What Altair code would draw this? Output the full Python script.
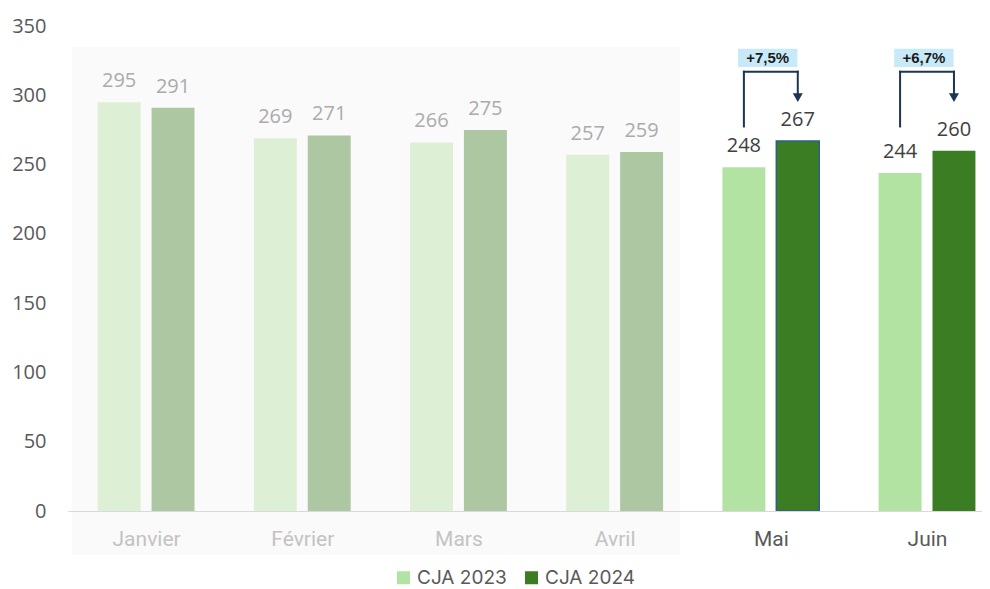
import json
import altair as alt
import pandas as pd

# ---- data -------------------------------------------------------------
months = ["Janvier", "Février", "Mars", "Avril", "Mai", "Juin"]
cja_2023 = [295, 269, 266, 257, 248, 244]
cja_2024 = [291, 271, 275, 259, 267, 260]
series = ["CJA 2023", "CJA 2024"]
y_ticks = [0, 50, 100, 150, 200, 250, 300, 350]
ann_months = ["Mai", "Juin"]
ann_labels = ["+7,5%", "+6,7%"]

# ---- tables built from the arrays --------------------------------------
rows = []
for i, m in enumerate(months):
    rows.append({"month": m, "i": i, "series": series[0], "s": 0, "value": cja_2023[i]})
    rows.append({"month": m, "i": i, "series": series[1], "s": 1, "value": cja_2024[i]})
bars_df = pd.DataFrame(rows)
ann_df = pd.DataFrame({"month": ann_months,
                       "i": [months.index(m) for m in ann_months],
                       "label": ann_labels})
bg_df = pd.DataFrame({"first": [0], "last": [3]})

FOCUS = 4  # first highlighted month index
FONT = "Open Sans"

xscale = alt.Scale(domain=[-0.5, 5.352], nice=False, zero=False)
yscale = alt.Scale(domain=[0, 350], nice=False, zero=False)

xaxis = alt.Axis(
    values=list(range(len(months))),
    labelExpr=json.dumps(months, ensure_ascii=False) + "[datum.value]",
    grid=False, ticks=False, domainColor="#d9d9d9", domainWidth=1,
    labelFont="Roboto", labelFontSize=21, labelPadding=17,
    labelColor=alt.condition("datum.value < 4", alt.value("#c3c3c3"), alt.value("#595959")),
    title=None, zindex=1,
)
yaxis = alt.Axis(values=y_ticks, grid=False, ticks=False, domain=False,
                 labelFont=FONT, labelFontSize=20, labelColor="#595959",
                 labelPadding=22, title=None)

bar_calc = dict(
    x0="datum.i + (datum.s == 0 ? -0.31 : 0.035)",
    x1="datum.i + (datum.s == 0 ? -0.035 : 0.31)",
    xc="datum.i + (datum.s == 0 ? -0.1725 : 0.1725)",
)

# ---- layers ------------------------------------------------------------
bg = alt.Chart(bg_df).transform_calculate(
    bx0="datum.first - 0.474", bx1="datum.last + 0.418"
).mark_rect(color="#fafafa", clip=False).encode(
    x=alt.X("bx0:Q", scale=xscale, title=None),
    x2="bx1:Q",
    y=alt.Y(datum=-31.7, scale=yscale, title=None),
    y2=alt.datum(334.9),
)

bars = alt.Chart(bars_df).transform_calculate(**bar_calc).mark_bar().encode(
    x=alt.X("x0:Q", scale=xscale, axis=xaxis),
    x2="x1:Q",
    y=alt.Y("value:Q", scale=yscale, axis=yaxis),
    y2=alt.datum(0),
    color=alt.Color("series:N",
                    scale=alt.Scale(domain=series, range=["#b3e3a2", "#3b7d23"]),
                    legend=alt.Legend(orient="none", legendX=326, legendY=542,
                                      direction="horizontal", title=None,
                                      symbolType="square", symbolSize=169,
                                      symbolStrokeWidth=0,
                                      labelFont="Inter", labelFontSize=19,
                                      labelColor="#595959", columnPadding=15,
                                      labelOffset=4, padding=0)),
    opacity=alt.condition(f"datum.i < {FOCUS}", alt.value(0.4), alt.value(1.0)),
    stroke=alt.condition("datum.i == 4 && datum.s == 1", alt.value("#2d5f8a"), alt.value("transparent")),
    strokeWidth=alt.value(1.5),
)

vlabels = alt.Chart(bars_df).transform_calculate(**bar_calc).mark_text(
    baseline="alphabetic", dy=-15, fontSize=20, font=FONT
).encode(
    x=alt.X("xc:Q", scale=xscale, title=None),
    y=alt.Y("value:Q", scale=yscale, title=None),
    text="value:Q",
    color=alt.condition(f"datum.i < {FOCUS}", alt.value("#ababab"), alt.value("#404040")),
)

ann_calc = dict(
    lx="datum.i - 0.1725", rx="datum.i + 0.1725",
    bx0="datum.i - 0.21", bx1="datum.i + 0.17", bxc="datum.i - 0.02",
)
ann = alt.Chart(ann_df).transform_calculate(**ann_calc)
LINE = "#1c3552"

boxes = ann.mark_rect(color="#c8eaf8").encode(
    x=alt.X("bx0:Q", scale=xscale, title=None), x2="bx1:Q",
    y=alt.Y(datum=320.5, scale=yscale, title=None), y2=alt.datum(333.5),
)
box_text = ann.mark_text(fontSize=15, fontWeight="bold", font="Liberation Sans",
                         color="#1a1a1a", baseline="middle").encode(
    x=alt.X("bxc:Q", scale=xscale, title=None),
    y=alt.Y(datum=327, scale=yscale, title=None),
    text="label:N",
)
left_rule = ann.mark_rule(color=LINE, strokeWidth=2, strokeCap="square").encode(
    x=alt.X("lx:Q", scale=xscale, title=None),
    y=alt.Y(datum=277.5, scale=yscale, title=None), y2=alt.datum(317),
)
top_rule = ann.mark_rule(color=LINE, strokeWidth=2, strokeCap="square").encode(
    x=alt.X("lx:Q", scale=xscale, title=None), x2="rx:Q",
    y=alt.Y(datum=317, scale=yscale, title=None),
)
right_rule = ann.mark_rule(color=LINE, strokeWidth=2, strokeCap="square").encode(
    x=alt.X("rx:Q", scale=xscale, title=None),
    y=alt.Y(datum=317, scale=yscale, title=None), y2=alt.datum(299.5),
)
arrow = ann.mark_point(shape="triangle-down", filled=True, size=100,
                       color=LINE, opacity=1).encode(
    x=alt.X("rx:Q", scale=xscale, title=None),
    y=alt.Y(datum=298.3, scale=yscale, title=None),
)

chart = alt.layer(
    bg, bars, vlabels, boxes, box_text, left_rule, top_rule, right_rule, arrow
).properties(
    width=914, height=485,
    autosize=alt.AutoSizeParams(type="none"),
    padding={"left": 60, "top": 18, "right": 0, "bottom": 78},
    background="white",
).configure_view(stroke=None)

chart.save("out.html", embed_options={"renderer": "svg", "actions": False})
